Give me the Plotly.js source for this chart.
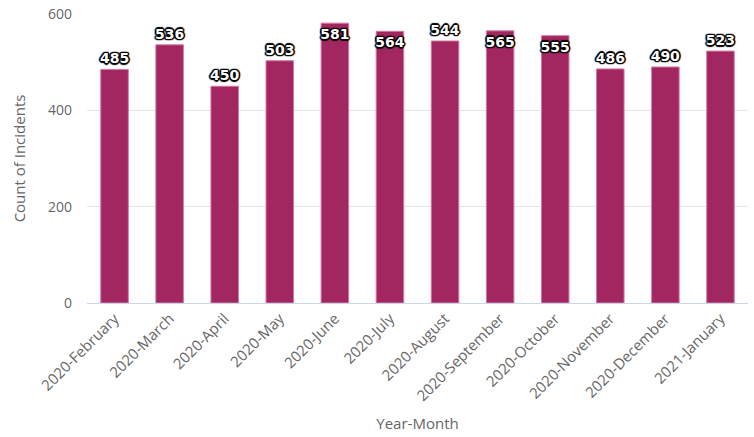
<!DOCTYPE html>
<html>
<head>
<meta charset="utf-8">
<script src="https://cdn.plot.ly/plotly-3.0.1.min.js"></script>
<style>html,body{margin:0;padding:0;background:#fff;}#chart{width:754px;height:437px;}</style>
</head>
<body>
<div id="chart"></div>
<script>
const months = ["2020-February","2020-March","2020-April","2020-May","2020-June","2020-July","2020-August","2020-September","2020-October","2020-November","2020-December","2021-January"];
const counts = [485,536,450,503,581,564,544,565,555,486,490,523];
const yTicks = [0,200,400,600];

const positions = counts.map(v => v > 550 ? 'inside' : 'outside');

const trace = {
  type: 'bar',
  x: months,
  y: counts,
  text: counts.map(String),
  textposition: positions,
  insidetextanchor: 'end',
  constraintext: 'none',
  cliponaxis: false,
  textangle: 0,
  textfont: {family: 'DejaVu Sans', size: 14, color: '#ffffff', weight: 'bold',
    shadow: '1px 1px 1px #000, -1px -1px 1px #000, 1px -1px 1px #000, -1px 1px 1px #000, 0 1.5px 1px #000, 0 -1.5px 1px #000, 1.5px 0 1px #000, -1.5px 0 1px #000'},
  marker: {color: '#a2265f', line: {color: '#d27aa2', width: 1}},
  hoverinfo: 'x+y'
};

const layout = {
  width: 754, height: 437,
  margin: {l: 87, r: 6, t: 14, b: 134},
  paper_bgcolor: '#ffffff', plot_bgcolor: '#ffffff',
  bargap: 0.5,
  showlegend: false,
  font: {family: 'Open Sans', color: '#666666'},
  xaxis: {
    title: {text: 'Year-Month', font: {family: 'Open Sans', size: 15, color: '#666666'}, standoff: 14},
    tickangle: -45,
    tickfont: {family: 'Open Sans', size: 15, color: '#666666'},
    showline: true, linecolor: '#ccd6eb', linewidth: 1,
    ticks: '', showgrid: false
  },
  yaxis: {
    title: {text: 'Count of Incidents', font: {family: 'Open Sans', size: 15, color: '#666666'}, standoff: 18},
    range: [0, 600],
    tickvals: yTicks,
    ticktext: yTicks.map(String),
    tickfont: {family: 'Open Sans', size: 14, color: '#666666'},
    ticklabelstandoff: 14,
    gridcolor: '#e6e6e6', gridwidth: 1,
    zeroline: false, showline: false, ticks: ''
  }
};

Plotly.newPlot('chart', [trace], layout, {displayModeBar: false, staticPlot: true});
</script>
</body>
</html>
